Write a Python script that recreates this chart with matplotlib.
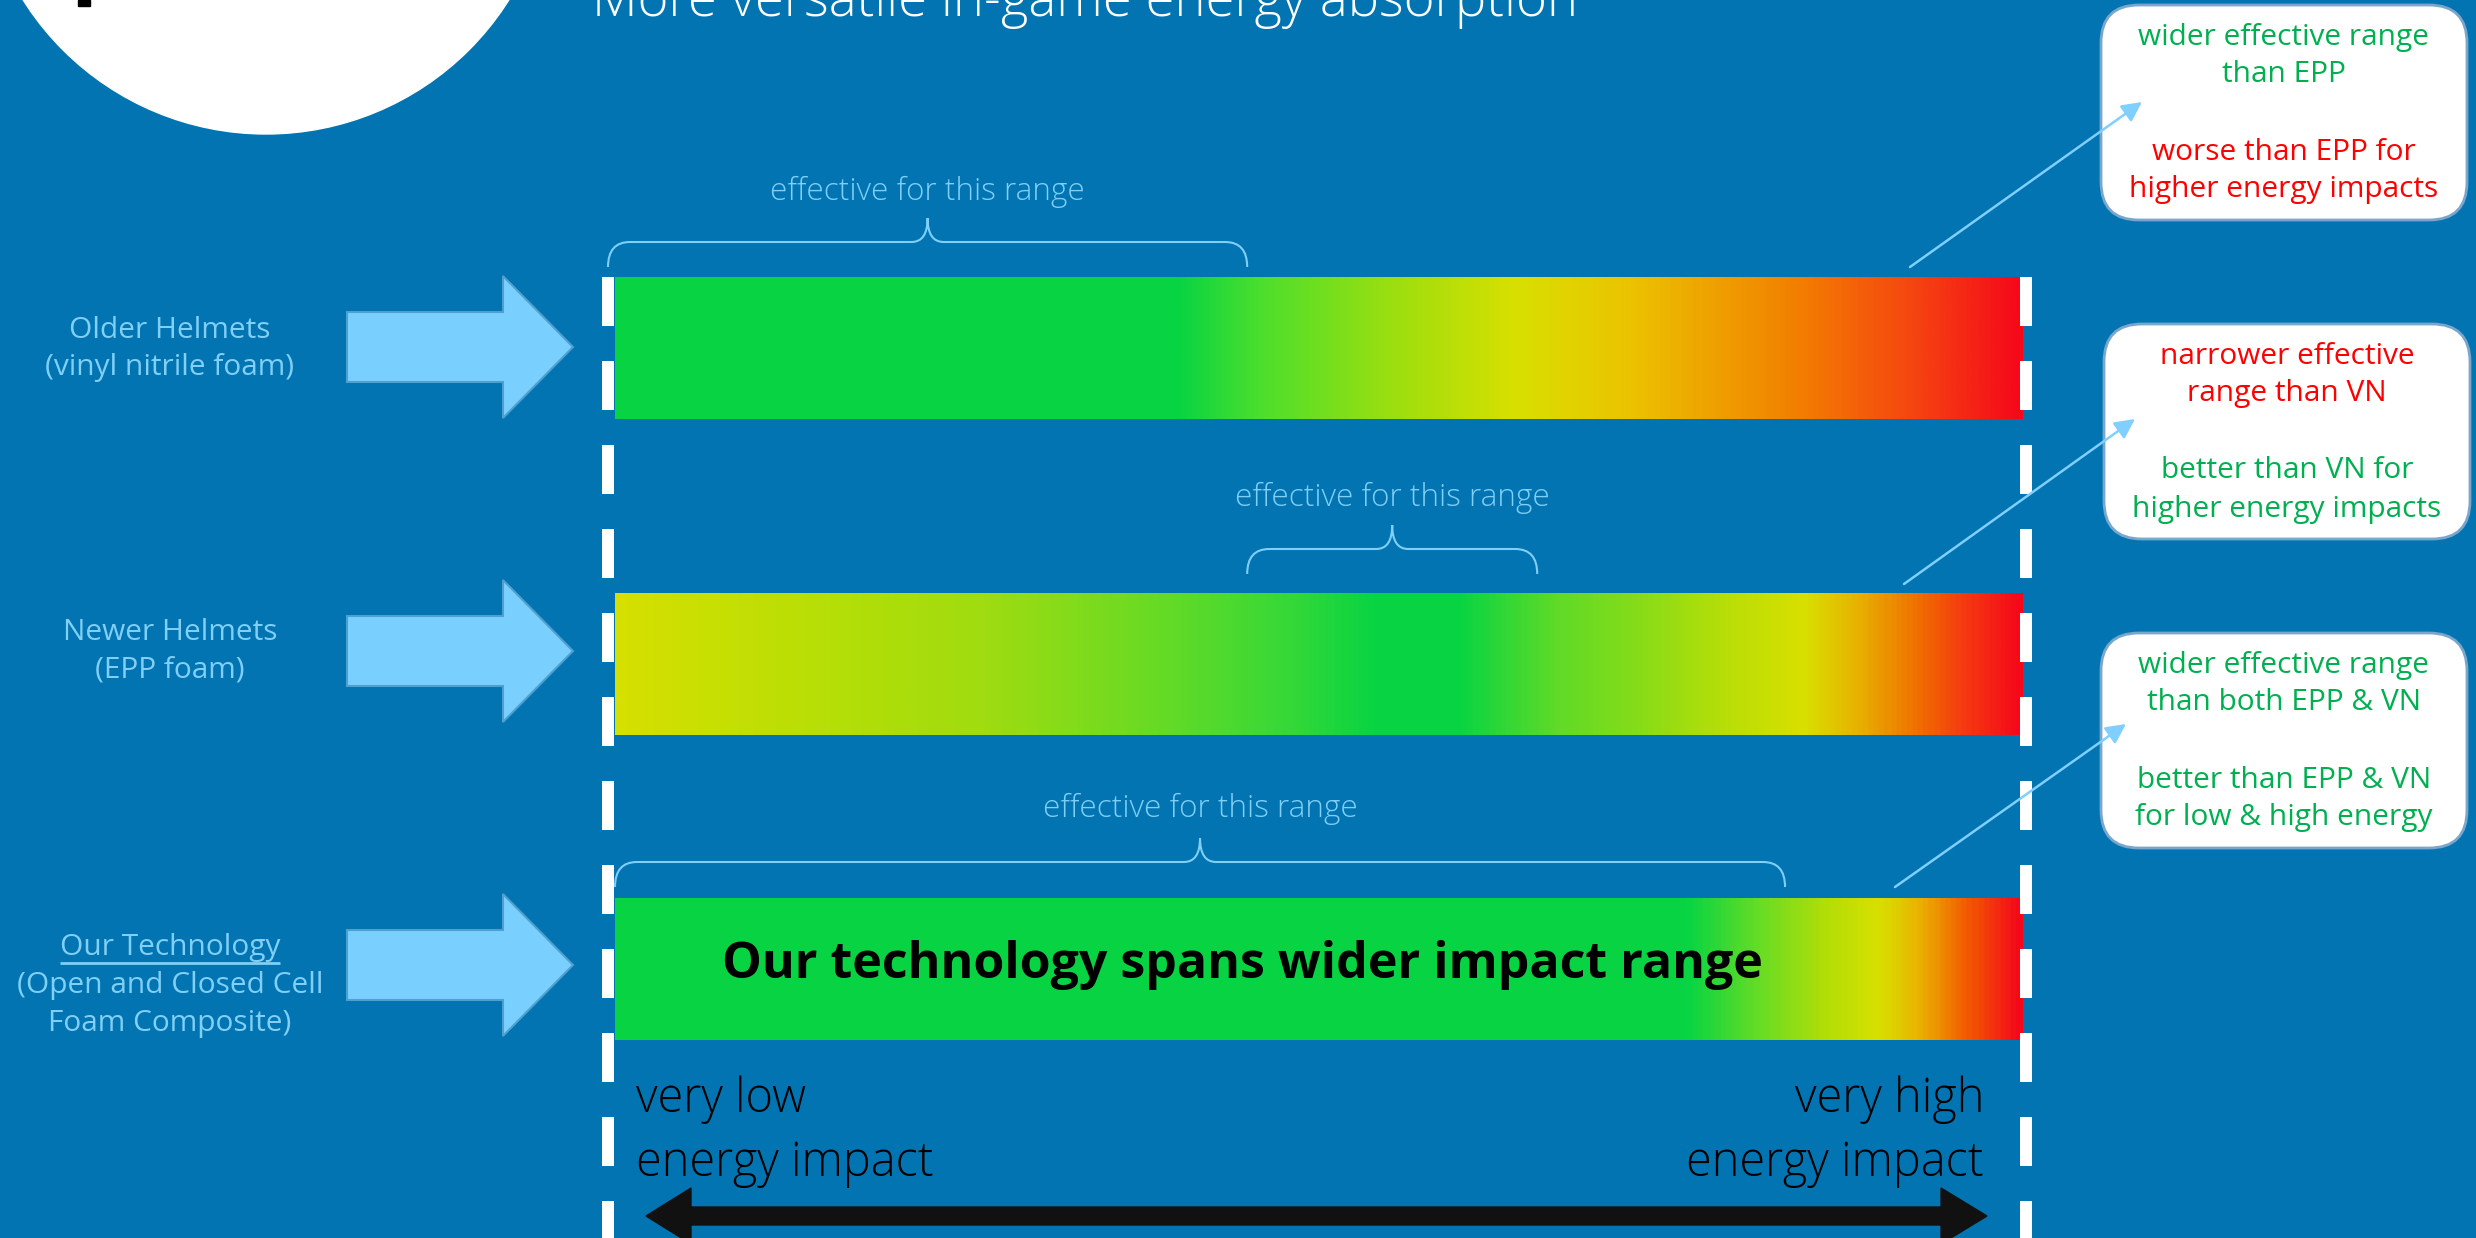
import numpy as np
import matplotlib.pyplot as plt
from matplotlib.patches import Polygon, FancyBboxPatch, Circle, PathPatch
from matplotlib.path import Path
from matplotlib.colors import LinearSegmentedColormap

plt.rcParams['font.family'] = ['Open Sans', 'DejaVu Sans']

# --- Data ---
title = 'More versatile in-game energy absorption'
helmet_labels = [
    ['Older Helmets', '(vinyl nitrile foam)'],
    ['Newer Helmets', '(EPP foam)'],
    ['Our Technology', '(Open and Closed Cell', 'Foam Composite)'],
]
# absorption colour along the impact-energy scale (0 = very low, 1 = very high)
older_stops = [(0.00, '#08D443'), (0.40, '#08D443'), (0.46, '#4EDF2C'), (0.55, '#9ADE10'),
               (0.64, '#D8E000'), (0.72, '#EBC400'), (0.84, '#F28000'), (0.92, '#F54810'),
               (1.00, '#F5081A')]
newer_stops = [(0.00, '#D6E000'), (0.17, '#B2DE08'), (0.26, '#A0DC10'), (0.40, '#60DA28'),
               (0.48, '#35D838'), (0.54, '#08D443'), (0.60, '#08D443'), (0.67, '#60DA28'),
               (0.73, '#88DC18'), (0.79, '#B8DE08'), (0.846, '#D8E000'), (0.886, '#E8B000'),
               (0.927, '#F07000'), (0.96, '#F53A10'), (1.00, '#F5081A')]
ours_stops = [(0.00, '#08D443'), (0.764, '#08D443'), (0.81, '#60DC28'), (0.86, '#B0DE08'),
              (0.90, '#D8E000'), (0.93, '#EBB000'), (0.96, '#F26000'), (1.00, '#F5081A')]
bar_stops = [older_stops, newer_stops, ours_stops]
effective_ranges = [(0.0, 0.449), (0.449, 0.655), (0.0, 0.831)]
range_label = 'effective for this range'

GREEN_TXT = '#00B050'
RED_TXT = '#FF0000'
callouts = [
    [('wider effective range', GREEN_TXT), ('than EPP', GREEN_TXT),
     ('worse than EPP for', RED_TXT), ('higher energy impacts', RED_TXT)],
    [('narrower effective', RED_TXT), ('range than VN', RED_TXT),
     ('better than VN for', GREEN_TXT), ('higher energy impacts', GREEN_TXT)],
    [('wider effective range', GREEN_TXT), ('than both EPP & VN', GREEN_TXT),
     ('better than EPP & VN', GREEN_TXT), ('for low & high energy', GREEN_TXT)],
]
bar_message = 'Our technology spans wider impact range'
scale_low = ['very low', 'energy impact']
scale_high = ['very high', 'energy impact']

# --- Layout (pixels) ---
W, H = 2476, 1238
BG = '#0174B1'
LIGHT = '#80CFF7'
BAR_X0, BAR_X1 = 615, 2023
BAR_TOPS = [277, 593, 898]
BAR_H = 142
BRACE_Y = [242, 549, 862]
RANGE_TXT_Y = [192, 498, 809]
ARROW_Y = [347, 651, 965]
LABEL_Y0 = [330, 632, 948]
LINE_GAP = 38
BOXES = [(2101, 5), (2104, 324), (2101, 633)]
BOX_W, BOX_H = 366, 215
BOX_LINE_DY = [33, 70, 147, 185]
CALL_START = [(1910, 267), (1904, 584), (1895, 887)]
CALL_END = [(2142, 102), (2135, 419), (2126, 724)]


def ex(f):
    return BAR_X0 + f * (BAR_X1 - BAR_X0)


fig = plt.figure(figsize=(W / 100, H / 100), dpi=100)
fig.patch.set_facecolor(BG)
ax = fig.add_axes([0, 0, 1, 1])
ax.set_facecolor(BG)
ax.axis('off')
ax.set_xlim(0, W)
ax.set_ylim(H, 0)
renderer = fig.canvas.get_renderer()


def fit(texts, ref, target_w):
    w = ref.get_window_extent(renderer=renderer).width
    size = ref.get_fontsize() * target_w / w
    for t in texts:
        t.set_fontsize(size)
    return size


# corner circle and cut-off title
ax.add_patch(Circle((266, -153), 287, color='white', zorder=2))
ax.add_patch(plt.Rectangle((78, 0), 12, 6, color='black', zorder=3))
t_title = ax.text(592, 16, title, color='white', fontsize=38, fontweight='light',
                  ha='left', va='baseline', zorder=3)
fit([t_title], t_title, 985)

# gradient bars
for stops, top in zip(bar_stops, BAR_TOPS):
    cmap = LinearSegmentedColormap.from_list('e', stops)
    grad = np.linspace(0, 1, 800)[None, :]
    ax.imshow(grad, cmap=cmap, extent=(BAR_X0, BAR_X1, top + BAR_H, top),
              aspect='auto', interpolation='bilinear', zorder=2)

# dashed scale limits
for x in [608, 2026]:
    ax.plot([x, x], [277, H + 10], color='white', lw=12 * 0.72,
            linestyle=(0, (49 / 12, 35 / 12)), dash_capstyle='butt', zorder=4)


# braces with "effective for this range"
def brace(x0, x1, y, depth=25, tip=24, r=22, r2=16):
    xm = (x0 + x1) / 2
    verts = [(x0, y + depth), (x0, y), (x0 + r, y), (xm - r2, y), (xm, y), (xm, y - tip),
             (xm, y), (xm + r2, y), (x1 - r, y), (x1, y), (x1, y + depth)]
    codes = [Path.MOVETO, Path.CURVE3, Path.CURVE3, Path.LINETO, Path.CURVE3, Path.CURVE3,
             Path.CURVE3, Path.CURVE3, Path.LINETO, Path.CURVE3, Path.CURVE3]
    return PathPatch(Path(verts, codes), fill=False, edgecolor=LIGHT, lw=1.5, zorder=3)


range_texts = []
for (a, b), by, ty in zip(effective_ranges, BRACE_Y, RANGE_TXT_Y):
    x0 = ex(a) - (7 if a == 0 and by < 300 else 0)
    ax.add_patch(brace(x0, ex(b), by))
    range_texts.append(ax.text((x0 + ex(b)) / 2, ty, range_label, color=LIGHT, fontsize=20,
                               fontweight='light', ha='center', va='center', zorder=3))
fit(range_texts, range_texts[0], 315)

# left labels and block arrows
label_texts = []
for lines, y0 in zip(helmet_labels, LABEL_Y0):
    for i, line in enumerate(lines):
        label_texts.append(ax.text(170, y0 + i * LINE_GAP, line, color=LIGHT, fontsize=19,
                                   ha='center', va='center', zorder=3))
fit(label_texts, label_texts[1], 249)
# underline "Our Technology"
uw = label_texts[4].get_window_extent(renderer=renderer).width
ax.plot([170 - uw / 2, 170 + uw / 2], [LABEL_Y0[2] + 15] * 2, color=LIGHT, lw=2,
        solid_capstyle='butt', zorder=6)

for cy in ARROW_Y:
    pts = [(347, cy - 35), (503, cy - 35), (503, cy - 71), (573, cy), (503, cy + 71),
           (503, cy + 35), (347, cy + 35)]
    ax.add_patch(Polygon(pts, closed=True, facecolor='#79D0FF', edgecolor='#4F9FCF',
                         lw=1.5, zorder=3))

# callout boxes
box_texts = []
for (bx, by), lines, s, e in zip(BOXES, callouts, CALL_START, CALL_END):
    ax.add_patch(FancyBboxPatch((bx, by), BOX_W, BOX_H,
                                boxstyle='round,pad=0,rounding_size=38',
                                facecolor='white', edgecolor='#7AA6CC', lw=2, zorder=3))
    for (txt, col), dy in zip(lines, BOX_LINE_DY):
        box_texts.append(ax.text(bx + BOX_W / 2, by + dy, txt, color=col, fontsize=21,
                                 ha='center', va='center', zorder=4))
    ax.annotate('', xy=e, xytext=s, zorder=5,
                arrowprops=dict(arrowstyle='-|>', color='#7FCFFF', lw=1.8,
                                mutation_scale=30, shrinkA=0, shrinkB=0))
fit(box_texts, box_texts[3], 310)

# message inside our technology bar
t_msg = ax.text(722, 965, bar_message, color='black', fontsize=35, fontweight='bold',
                ha='left', va='center', zorder=5)
fit([t_msg], t_msg, 1041)

# energy scale labels
scale_texts = []
for i, (lo, hi) in enumerate(zip(scale_low, scale_high)):
    y = 1100 + i * 64
    scale_texts.append(ax.text(636, y, lo, color='black', fontsize=33, fontweight='light',
                               ha='left', va='center', zorder=3))
    scale_texts.append(ax.text(1984, y, hi, color='black', fontsize=33, fontweight='light',
                               ha='right', va='center', zorder=3))
fit(scale_texts, scale_texts[2], 298)

# double-headed energy arrow
cy = 1216
pts = [(646, cy), (691, cy - 28), (691, cy - 9), (1941, cy - 9), (1941, cy - 28), (1987, cy),
       (1941, cy + 28), (1941, cy + 9), (691, cy + 9), (691, cy + 28)]
ax.add_patch(Polygon(pts, closed=True, facecolor='#111111', edgecolor='#111111', zorder=3))

ax.set_xlim(0, W)
ax.set_ylim(H, 0)
fig.savefig('out.png', dpi=100, facecolor=BG)
